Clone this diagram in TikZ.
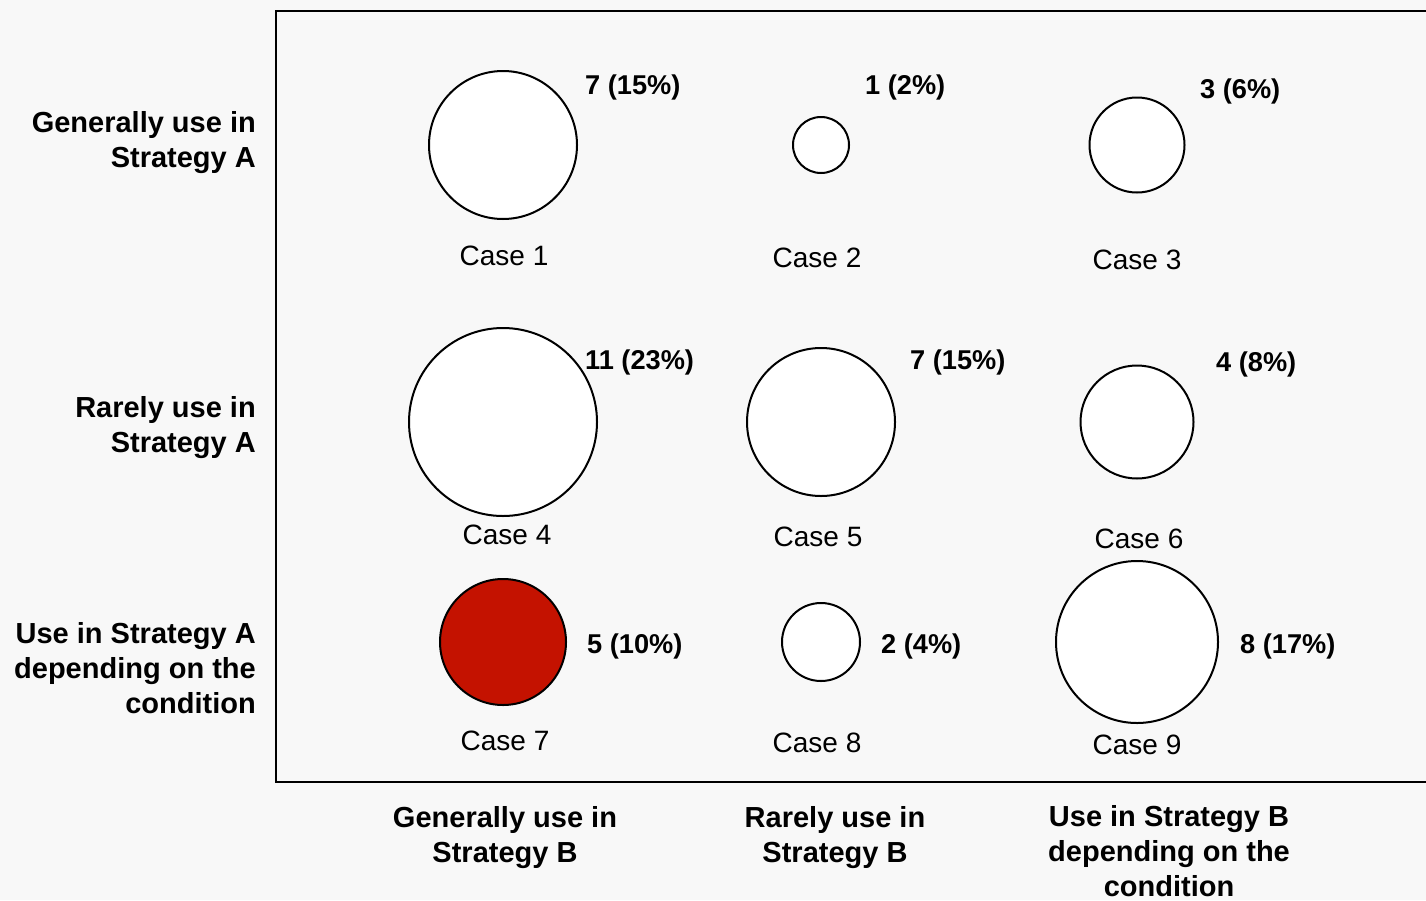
\documentclass[tikz,border=0pt]{standalone}
\usepackage{fontspec}
\setmainfont{Liberation Sans}
\definecolor{bg}{HTML}{F8F8F8}
\definecolor{casered}{HTML}{C41200}
\begin{document}
\begin{tikzpicture}[x=1pt,y=-1pt,
  bubble/.style={circle,draw=black,line width=2pt,fill=white,inner sep=0pt},
  caselbl/.style={font=\fontsize{28}{33}\selectfont,inner sep=0pt,anchor=base},
  countlbl/.style={font=\bfseries\fontsize{27.2}{33}\selectfont,inner sep=0pt,anchor=base west},
  rowlbl/.style={font=\bfseries\fontsize{29}{35}\selectfont,inner sep=0pt,align=right,anchor=base east},
  collbl/.style={font=\bfseries\fontsize{29}{35}\selectfont,inner sep=0pt,align=center,anchor=base}]
\fill[bg] (0,0) rectangle (1426,900);
\useasboundingbox (0,0) rectangle (1426,900);
\begin{scope}
\clip (0,0) rectangle (1426,900);
\draw[line width=2.5pt] (1445,11) -- (276,11) -- (276,782) -- (1445,782);
\end{scope}
% circles
\node[bubble,minimum size=148pt] (c1) at (503,145) {};
\node[bubble,minimum size=56pt] (c2) at (821,145) {};
\node[bubble,minimum size=95pt] (c3) at (1137,145) {};
\node[bubble,minimum size=188pt] (c4) at (503,422) {};
\node[bubble,minimum size=148pt] (c5) at (821,422) {};
\node[bubble,minimum size=113pt] (c6) at (1137,422) {};
\node[bubble,minimum size=126pt,fill=casered] (c7) at (503,642) {};
\node[bubble,minimum size=78pt] (c8) at (821,642) {};
\node[bubble,minimum size=162pt] (c9) at (1137,642) {};
% case labels
\node[caselbl] (l1) at (504,265) {Case 1};
\node[caselbl] (l2) at (817,267) {Case 2};
\node[caselbl] (l3) at (1137,269) {Case 3};
\node[caselbl] (l4) at (507,544) {Case 4};
\node[caselbl] (l5) at (818,546) {Case 5};
\node[caselbl] (l6) at (1139,548) {Case 6};
\node[caselbl] (l7) at (505,750) {Case 7};
\node[caselbl] (l8) at (817,752) {Case 8};
\node[caselbl] (l9) at (1137,754) {Case 9};
% counts
\node[countlbl] (n1) at (585,94) {7 (15\%)};
\node[countlbl] (n2) at (865,94) {1 (2\%)};
\node[countlbl] (n3) at (1200,98) {3 (6\%)};
\node[countlbl] (n4) at (585,369) {11 (23\%)};
\node[countlbl] (n5) at (910,369) {7 (15\%)};
\node[countlbl] (n6) at (1216,371) {4 (8\%)};
\node[countlbl] (n7) at (587,653) {5 (10\%)};
\node[countlbl] (n8) at (881,653) {2 (4\%)};
\node[countlbl] (n9) at (1240,653) {8 (17\%)};
% row labels (anchored at baseline of last line)
\node[rowlbl] (r1) at (256,167) {Generally use in\\Strategy A};
\node[rowlbl] (r2) at (256,452) {Rarely use in\\Strategy A};
\node[rowlbl] (r3) at (256,713) {Use in Strategy A\\depending on the\\condition};
% column labels (anchored at baseline of last line)
\node[collbl] (k1) at (505,862) {Generally use in\\Strategy B};
\node[collbl] (k2) at (835,862) {Rarely use in\\Strategy B};
\node[collbl] (k3) at (1169,896) {Use in Strategy B\\depending on the\\condition};
\end{tikzpicture}
\end{document}
